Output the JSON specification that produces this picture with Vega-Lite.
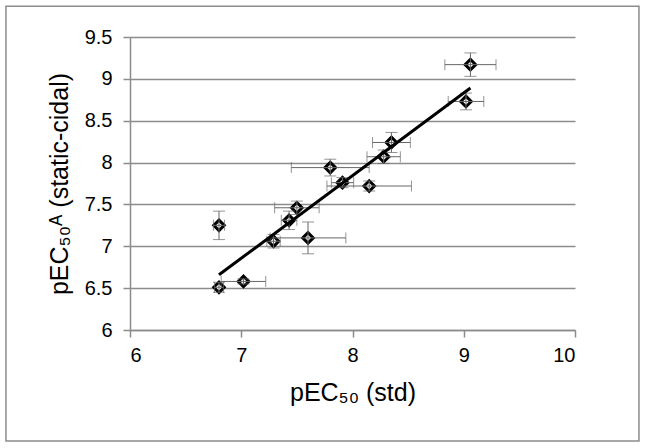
{
  "$schema": "https://vega.github.io/schema/vega-lite/v6.json",
  "autosize": {"type": "none"},
  "width": 445,
  "height": 293,
  "padding": {"left": 130, "top": 37, "right": 70, "bottom": 118},
  "background": "white",
  "config": {
    "view": {"stroke": null},
    "font": "Liberation Sans",
    "axis": {
      "labelFont": "Liberation Sans",
      "titleFont": "Liberation Sans",
      "labelColor": "#000000",
      "titleColor": "#000000",
      "labelFontSize": 20,
      "titleFontSize": 25,
      "titleFontWeight": "normal",
      "domainColor": "#8c8c8c",
      "domainWidth": 1.5,
      "tickColor": "#8c8c8c",
      "tickWidth": 1.5,
      "tickSize": 7,
      "gridColor": "#8c8c8c",
      "gridWidth": 1.6,
      "gridOpacity": 1
    }
  },
  "datasets": {
    "pts": [
      {"x": 6.80, "y": 6.51, "xlo": 6.76, "xhi": 6.84, "ylo": 6.45, "yhi": 6.57},
      {"x": 6.80, "y": 7.25, "xlo": 6.75, "xhi": 6.85, "ylo": 7.08, "yhi": 7.42},
      {"x": 7.02, "y": 6.58, "xlo": 6.82, "xhi": 7.22, "ylo": 6.55, "yhi": 6.61},
      {"x": 7.29, "y": 7.06, "xlo": 7.23, "xhi": 7.35, "ylo": 6.98, "yhi": 7.14},
      {"x": 7.43, "y": 7.31, "xlo": 7.36, "xhi": 7.50, "ylo": 7.20, "yhi": 7.42},
      {"x": 7.50, "y": 7.46, "xlo": 7.30, "xhi": 7.70, "ylo": 7.38, "yhi": 7.54},
      {"x": 7.60, "y": 7.10, "xlo": 7.26, "xhi": 7.94, "ylo": 6.91, "yhi": 7.29},
      {"x": 7.80, "y": 7.94, "xlo": 7.45, "xhi": 8.15, "ylo": 7.84, "yhi": 8.04},
      {"x": 7.91, "y": 7.76, "xlo": 7.81, "xhi": 8.01, "ylo": 7.70, "yhi": 7.82},
      {"x": 8.15, "y": 7.72, "xlo": 7.77, "xhi": 8.53, "ylo": 7.66, "yhi": 7.78},
      {"x": 8.28, "y": 8.07, "xlo": 8.13, "xhi": 8.43, "ylo": 7.99, "yhi": 8.15},
      {"x": 8.35, "y": 8.24, "xlo": 8.18, "xhi": 8.52, "ylo": 8.12, "yhi": 8.36},
      {"x": 9.02, "y": 8.73, "xlo": 8.86, "xhi": 9.18, "ylo": 8.63, "yhi": 8.83},
      {"x": 9.06, "y": 9.17, "xlo": 8.83, "xhi": 9.29, "ylo": 9.03, "yhi": 9.31}
    ],
    "trend": [
      {"x": 6.80, "y": 6.66},
      {"x": 9.06, "y": 8.89}
    ]
  },
  "layer": [
    {
      "data": {"values": [{}]},
      "mark": {"type": "rect", "fill": null, "stroke": "#8c8c8c", "strokeWidth": 1.5},
      "encoding": {
        "x": {"datum": 4.885, "type": "quantitative", "scale": {"domain": [6, 10], "nice": false, "zero": false}},
        "x2": {"datum": 10.575},
        "y": {"datum": 9.866, "type": "quantitative", "scale": {"domain": [6, 9.5], "nice": false, "zero": false}},
        "y2": {"datum": 4.675}
      }
    },
    {
      "data": {"name": "pts"},
      "mark": {"type": "point", "shape": "diamond", "filled": false, "fill": "white", "fillOpacity": 1, "stroke": "black", "strokeWidth": 3, "size": 110, "opacity": 1},
      "encoding": {
        "x": {"field": "x", "type": "quantitative",
              "scale": {"domain": [6, 10], "nice": false, "zero": false},
              "axis": {"values": [6, 7, 8, 9, 10], "format": "d", "grid": false, "title": "pEC₅₀ (std)", "labelPadding": 8, "titlePadding": 15}},
        "y": {"field": "y", "type": "quantitative",
              "scale": {"domain": [6, 9.5], "nice": false, "zero": false},
              "axis": {"values": [6, 6.5, 7, 7.5, 8, 8.5, 9, 9.5], "grid": true, "title": "pEC₅₀ᴬ (static-cidal)", "labelPadding": 11, "titlePadding": 12, "format": "~g"}}
      }
    },
    {
      "data": {"name": "pts"},
      "mark": {"type": "rule", "color": "#666666", "strokeWidth": 1},
      "encoding": {
        "x": {"field": "xlo", "type": "quantitative"},
        "x2": {"field": "xhi"},
        "y": {"field": "y", "type": "quantitative"}
      }
    },
    {
      "data": {"name": "pts"},
      "mark": {"type": "rule", "color": "#666666", "strokeWidth": 1},
      "encoding": {
        "x": {"field": "x", "type": "quantitative"},
        "y": {"field": "ylo", "type": "quantitative"},
        "y2": {"field": "yhi"}
      }
    },
    {
      "data": {"name": "pts"},
      "mark": {"type": "tick", "orient": "vertical", "color": "#666666", "size": 11, "thickness": 1},
      "encoding": {
        "x": {"field": "xlo", "type": "quantitative"},
        "y": {"field": "y", "type": "quantitative"}
      }
    },
    {
      "data": {"name": "pts"},
      "mark": {"type": "tick", "orient": "vertical", "color": "#666666", "size": 11, "thickness": 1},
      "encoding": {
        "x": {"field": "xhi", "type": "quantitative"},
        "y": {"field": "y", "type": "quantitative"}
      }
    },
    {
      "data": {"name": "pts"},
      "mark": {"type": "tick", "orient": "horizontal", "color": "#666666", "size": 12, "thickness": 1},
      "encoding": {
        "x": {"field": "x", "type": "quantitative"},
        "y": {"field": "ylo", "type": "quantitative"}
      }
    },
    {
      "data": {"name": "pts"},
      "mark": {"type": "tick", "orient": "horizontal", "color": "#666666", "size": 12, "thickness": 1},
      "encoding": {
        "x": {"field": "x", "type": "quantitative"},
        "y": {"field": "yhi", "type": "quantitative"}
      }
    },
    {
      "data": {"name": "trend"},
      "mark": {"type": "line", "color": "black", "strokeWidth": 3},
      "encoding": {
        "x": {"field": "x", "type": "quantitative"},
        "y": {"field": "y", "type": "quantitative"}
      }
    }
  ]
}
